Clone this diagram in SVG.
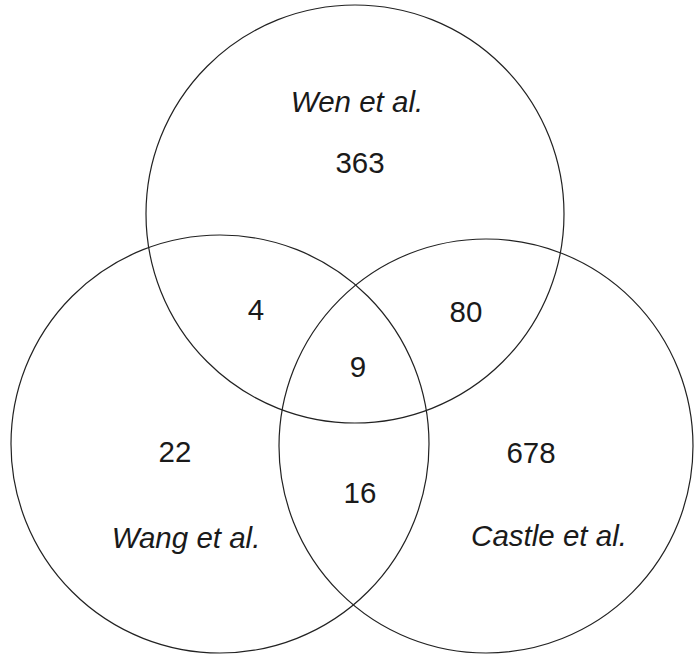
<svg xmlns="http://www.w3.org/2000/svg" width="694" height="658" viewBox="0 0 694 658">
<style>
.c{fill:none;stroke:#222;stroke-width:1.2}
.t{font-family:"Liberation Sans",Arial,sans-serif;font-size:29.5px;fill:#1a1a1a;text-anchor:middle}
.i{font-style:italic}
</style>
<rect width="694" height="658" fill="#fff"/>
<g id="wen"><circle class="c" cx="355" cy="214" r="209"/><text class="t i" x="357" y="112">Wen et al.</text><text class="t" x="360" y="173">363</text></g>
<g id="wang"><circle class="c" cx="220" cy="444" r="209"/><text class="t i" x="186" y="548">Wang et al.</text><text class="t" x="175" y="462">22</text></g>
<g id="castle"><circle class="c" cx="486" cy="446" r="207"/><text class="t i" x="549" y="546">Castle et al.</text><text class="t" x="531" y="463">678</text></g>
<g id="overlaps">
<text class="t" x="256" y="320">4</text>
<text class="t" x="466" y="322">80</text>
<text class="t" x="358" y="377">9</text>
<text class="t" x="360" y="503">16</text>
</g>
</svg>
